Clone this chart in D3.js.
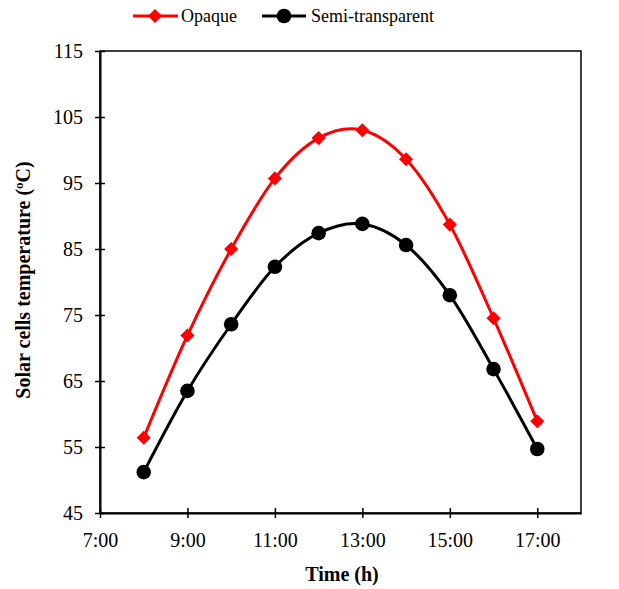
<!DOCTYPE html>
<html>
  <head>
    <meta charset="utf-8">
    <script type="text/javascript" src="https://d3js.org/d3.v7.min.js"></script>
    <style>
      body { margin: 0; background: #fff; }
      text { font-family: "Liberation Serif", "Times New Roman", serif; fill: #000; }
    </style>
  </head>
  <body>
    <script type="text/javascript">
        // data
        var hours = [8, 9, 10, 11, 12, 13, 14, 15, 16, 17];
        var opaque = [56.4, 71.9, 85.0, 95.7, 101.8, 103.0, 98.6, 88.7, 74.5, 58.9];
        var semiTransparent = [51.2, 63.5, 73.6, 82.3, 87.4, 88.8, 85.6, 78.0, 66.8, 54.7];
        var xTicks = [7, 9, 11, 13, 15, 17];
        var yTicks = [45, 55, 65, 75, 85, 95, 105, 115];

        var width = 619, height = 589;
        var margin = {top: 51, right: 38, bottom: 76, left: 100};

        var svg = d3.select("body").append("svg")
                    .attr("width", width)
                    .attr("height", height);

        var x = d3.scaleLinear().domain([7, 18]).range([margin.left, width - margin.right]);
        var y = d3.scaleLinear().domain([45, 115]).range([height - margin.bottom, margin.top]);

        //frame
        svg.append("rect")
            .attr("x", x(7)).attr("y", y(115))
            .attr("width", x(18) - x(7)).attr("height", y(45) - y(115))
            .attr("fill", "none").attr("stroke", "#000").attr("stroke-width", 1.5);

        //axes with crossing ticks
        var xAxis = svg.append("g")
            .attr("transform", "translate(0," + y(45) + ")")
            .call(d3.axisBottom(x).tickValues(xTicks).tickSize(5).tickSizeOuter(0)
                .tickFormat(function(d){ return d + ":00"; }));
        xAxis.selectAll(".tick line").attr("y1", -5).attr("stroke-width", 1.5);
        xAxis.select(".domain").attr("stroke-width", 2);
        xAxis.selectAll("text").attr("font-size", 20).attr("y", 34).attr("dy", 0);

        var yAxis = svg.append("g")
            .attr("transform", "translate(" + x(7) + ",0)")
            .call(d3.axisLeft(y).tickValues(yTicks).tickSize(5).tickSizeOuter(0));
        yAxis.selectAll(".tick line").attr("x1", 5).attr("x2", -5).attr("stroke-width", 1.5);
        yAxis.select(".domain").attr("stroke-width", 2);
        yAxis.selectAll("text").attr("font-size", 20).attr("x", -17);
        svg.selectAll(".tick text").style("font-family", "Liberation Serif");

        //axis titles
        svg.append("text")
            .attr("x", 342).attr("y", 581)
            .attr("text-anchor", "middle")
            .attr("font-size", 20).attr("font-weight", "bold")
            .text("Time (h)");

        var yTitle = svg.append("text")
            .attr("transform", "translate(30,280) rotate(-90)")
            .attr("text-anchor", "middle")
            .attr("font-size", 20).attr("font-weight", "bold");
        yTitle.append("tspan").text("Solar cells temperature (");
        yTitle.append("tspan").attr("font-size", 13).attr("dy", -7).text("o");
        yTitle.append("tspan").attr("dy", 7).text("C)");

        var line = d3.line()
            .x(function(d, i){ return x(hours[i]); })
            .y(function(d){ return y(d); })
            .curve(d3.curveCatmullRom.alpha(0));

        var diamond = d3.symbol().type(d3.symbolSquare).size(100);

        //opaque series
        svg.append("path").datum(opaque)
            .attr("d", line).attr("fill", "none")
            .attr("stroke", "#ff0000").attr("stroke-width", 3);
        svg.append("g").selectAll("path")
            .data(opaque).enter().append("path")
            .attr("d", diamond)
            .attr("transform", function(d, i){ return "translate(" + x(hours[i]) + "," + y(d) + ") rotate(45)"; })
            .attr("fill", "#ff0000");

        //semi-transparent series
        svg.append("path").datum(semiTransparent)
            .attr("d", line).attr("fill", "none")
            .attr("stroke", "#000").attr("stroke-width", 3);
        svg.append("g").selectAll("circle")
            .data(semiTransparent).enter().append("circle")
            .attr("cx", function(d, i){ return x(hours[i]); })
            .attr("cy", function(d){ return y(d); })
            .attr("r", 7.3)
            .attr("fill", "#000");

        //legend
        var legend = svg.append("g");
        legend.append("line").attr("x1", 133).attr("x2", 178).attr("y1", 16).attr("y2", 16)
            .attr("stroke", "#ff0000").attr("stroke-width", 3);
        legend.append("path").attr("d", diamond)
            .attr("transform", "translate(155,16) rotate(45)").attr("fill", "#ff0000");
        legend.append("text").attr("x", 181).attr("y", 22).attr("font-size", 18).text("Opaque");

        legend.append("line").attr("x1", 262).attr("x2", 306).attr("y1", 16).attr("y2", 16)
            .attr("stroke", "#000").attr("stroke-width", 3);
        legend.append("circle").attr("cx", 284).attr("cy", 16).attr("r", 7.3).attr("fill", "#000");
        legend.append("text").attr("x", 311).attr("y", 22).attr("font-size", 18).text("Semi-transparent");
    </script>
  </body>
</html>
